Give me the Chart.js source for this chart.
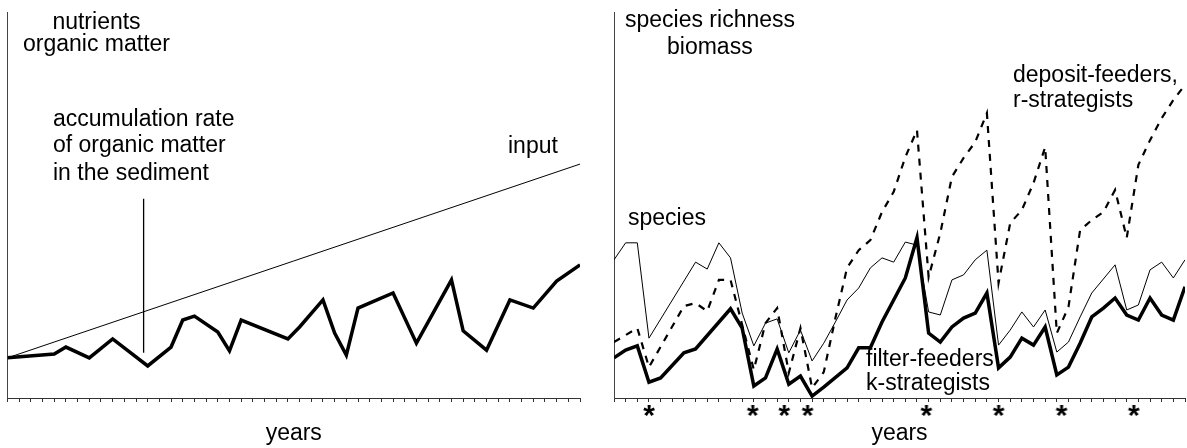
<!DOCTYPE html>
<html><head><meta charset="utf-8">
<script src="https://cdn.jsdelivr.net/npm/chart.js@4/dist/chart.umd.min.js"></script>
<style>
html,body{margin:0;padding:0;background:#fff;width:1187px;height:448px;overflow:hidden}
#cl{position:absolute;left:0;top:0}
#cr{position:absolute;left:595px;top:0}
</style></head><body>
<canvas id="cl" width="595" height="448"></canvas>
<canvas id="cr" width="592" height="448"></canvas>
<script>
// ---- data (values in arbitrary units, 0-100 scale) ----
const years = [0,1,2,3,4,5,6,7,8,9,10,11,12,13,14,15,16,17,18,19,20,21,22,23,24,25,26,27,28,29,30,31,32,33,34,35,36,37,38,39,40,41,42,43,44,45,46,47,48,49];

// left panel
const nutrientInput = [10.4,null,null,null,null,null,null,null,null,null,null,null,null,null,null,null,null,null,null,null,null,null,null,null,null,null,null,null,null,null,null,null,null,null,null,null,null,null,null,null,null,null,null,null,null,null,null,null,null,60.6];
const accumulationRate = [10.4,null,null,null,11.4,13.2,null,10.4,null,15.3,null,null,8.3,null,13.2,20.2,21.2,null,17.1,12.2,20.2,null,null,null,15.3,18.4,null,25.4,16.8,11.1,23.3,null,null,27.2,null,14.2,null,null,30.6,17.4,null,12.4,null,25.4,null,23.3,null,30.3,null,34.5];
const pointerYear = [11.65, 11.65];
const pointerValue = [51.6, 11.7];

// right panel
const speciesRichness = [35.8,40.2,40.2,15.5,null,null,null,35.2,33.4,40.2,36.3,22.0,13.5,19.4,20.5,11.7,17.6,9.6,14.2,19.7,25.4,28.5,33.7,36.3,35.2,40.4,39.6,22.3,21.5,30.6,31.9,35.8,38.3,13.7,17.6,22.3,18.4,22.8,11.9,14.5,21.0,27.2,null,34.5,22.8,24.1,33.2,35.2,31.1,35.8];
const depositFeeders = [14.5,null,18.1,8.0,null,null,23.8,24.6,22.5,30.6,30.6,null,7.3,19.4,23.3,6.5,18.1,2.6,6.7,20.7,33.7,38.3,40.9,48.2,53.4,62.4,69.4,31.3,42.7,57.3,62.2,66.3,73.8,29.8,45.3,48.7,55.7,65.0,16.8,23.6,43.5,46.1,48.2,53.9,41.5,60.4,66.8,72.5,77.2,81.1];
const filterFeeders = [10.4,12.4,13.5,4.1,5.2,null,11.7,12.7,null,null,23.1,18.1,3.1,5.2,12.7,3.6,5.7,0.5,2.8,null,7.8,13.0,13.0,19.7,25.4,31.1,41.5,16.8,14.5,18.4,20.7,22.0,27.2,7.8,10.6,15.5,13.7,18.4,6.0,8.0,14.2,21.0,23.3,25.9,21.5,20.2,25.9,21.5,20.2,28.8];
const starYears = [3, 11.9, 14.6, 16.6, 26.8, 33, 38.4, 44.6];

// ---- helpers ----
const FONT = '"Liberation Sans", Arial, Helvetica, sans-serif';
function toXY(vals, xs){ const out=[]; vals.forEach((v,i)=>{ if(v!==null) out.push({x:(xs||years)[i], y:v}); }); return out; }

function makeStar(){
  const c=document.createElement('canvas'); c.width=22; c.height=22;
  const g=c.getContext('2d');
  g.font='bold 30px '+FONT; g.textAlign='center'; g.fillStyle='#000';
  const m=g.measureText('*');
  const by = 11 + (m.actualBoundingBoxAscent - m.actualBoundingBoxDescent)/2;
  g.fillText('*',11,by);
  return c;
}
const starImg = makeStar();

const textPlugin = {
  id:'txt',
  afterDraw(chart, args, opts){
    const ctx=chart.ctx; ctx.save();
    ctx.font='23px '+FONT; ctx.fillStyle='#000'; ctx.textBaseline='alphabetic';
    for(const t of (opts.items||[])){ ctx.textAlign=t.align||'left'; ctx.fillText(t.text,t.x,t.y); }
    ctx.restore();
  }
};
// stars marking years below the x axis, placed with the x scale
const starPlugin = {
  id:'stars',
  afterDraw(chart, args, opts){
    if(!opts.years) return;
    const xs=chart.scales.x, ctx=chart.ctx, yb=chart.chartArea.bottom+opts.offset;
    for(const v of opts.years){
      const px=xs.getPixelForValue(v);
      ctx.drawImage(starImg, px-starImg.width/2, yb-starImg.height/2);
    }
  }
};

function axes(){
  return {
    x:{type:'linear',min:0,max:49,
       ticks:{display:false,stepSize:1,maxTicksLimit:100,autoSkip:false},
       grid:{drawOnChartArea:false,drawTicks:true,tickLength:4,color:'#333',lineWidth:1},
       border:{display:true,color:'#333',width:1},
       title:{display:true,text:'years',color:'#000',font:{family:FONT,size:23},padding:{top:17.4,bottom:1}}},
    y:{type:'linear',min:0,max:100,
       ticks:{display:false},
       grid:{display:false,drawTicks:false},
       border:{display:true,color:'#444',width:1}}
  };
}
const common = {responsive:false,animation:false,events:[],
  elements:{point:{radius:0},line:{tension:0,borderColor:'#000',fill:false}}};

new Chart(document.getElementById('cl'),{
  type:'line',
  data:{datasets:[
    {data:toXY(nutrientInput),borderWidth:1,borderColor:'#000'},
    {data:toXY(accumulationRate),borderWidth:3.5,borderColor:'#000'},
    {data:toXY(pointerValue,pointerYear),borderWidth:1.3,borderColor:'#000'}
  ]},
  options:Object.assign({},common,{
    layout:{padding:{left:7.5,right:15,top:12,bottom:0}},
    scales:axes(),
    plugins:{legend:{display:false},tooltip:{enabled:false},
      txt:{items:[
        {text:'nutrients',x:96.5,y:29,align:'center'},
        {text:'organic matter',x:96.5,y:51,align:'center'},
        {text:'accumulation rate',x:53,y:126},
        {text:'of organic matter',x:53,y:152},
        {text:'in the sediment',x:53,y:180},
        {text:'input',x:508,y:153}
      ]}}
  }),
  plugins:[textPlugin]
});

new Chart(document.getElementById('cr'),{
  type:'line',
  data:{datasets:[
    {data:toXY(speciesRichness),borderWidth:1,borderColor:'#000'},
    {data:toXY(depositFeeders),borderWidth:2.2,borderColor:'#000',borderDash:[7,7]},
    {data:toXY(filterFeeders),borderWidth:3.5,borderColor:'#000'}
  ]},
  options:Object.assign({},common,{
    layout:{padding:{left:19,right:2,top:12,bottom:0}},
    scales:axes(),
    plugins:{legend:{display:false},tooltip:{enabled:false},
      stars:{years:starYears,offset:13},
      txt:{items:[
        {text:'species richness',x:30,y:27},
        {text:'biomass',x:72,y:54},
        {text:'deposit-feeders,',x:418,y:82},
        {text:'r-strategists',x:418,y:107},
        {text:'species',x:33,y:225},
        {text:'filter-feeders',x:271,y:366},
        {text:'k-strategists',x:271,y:390}
      ]}}
  }),
  plugins:[textPlugin, starPlugin]
});
</script>
</body></html>
